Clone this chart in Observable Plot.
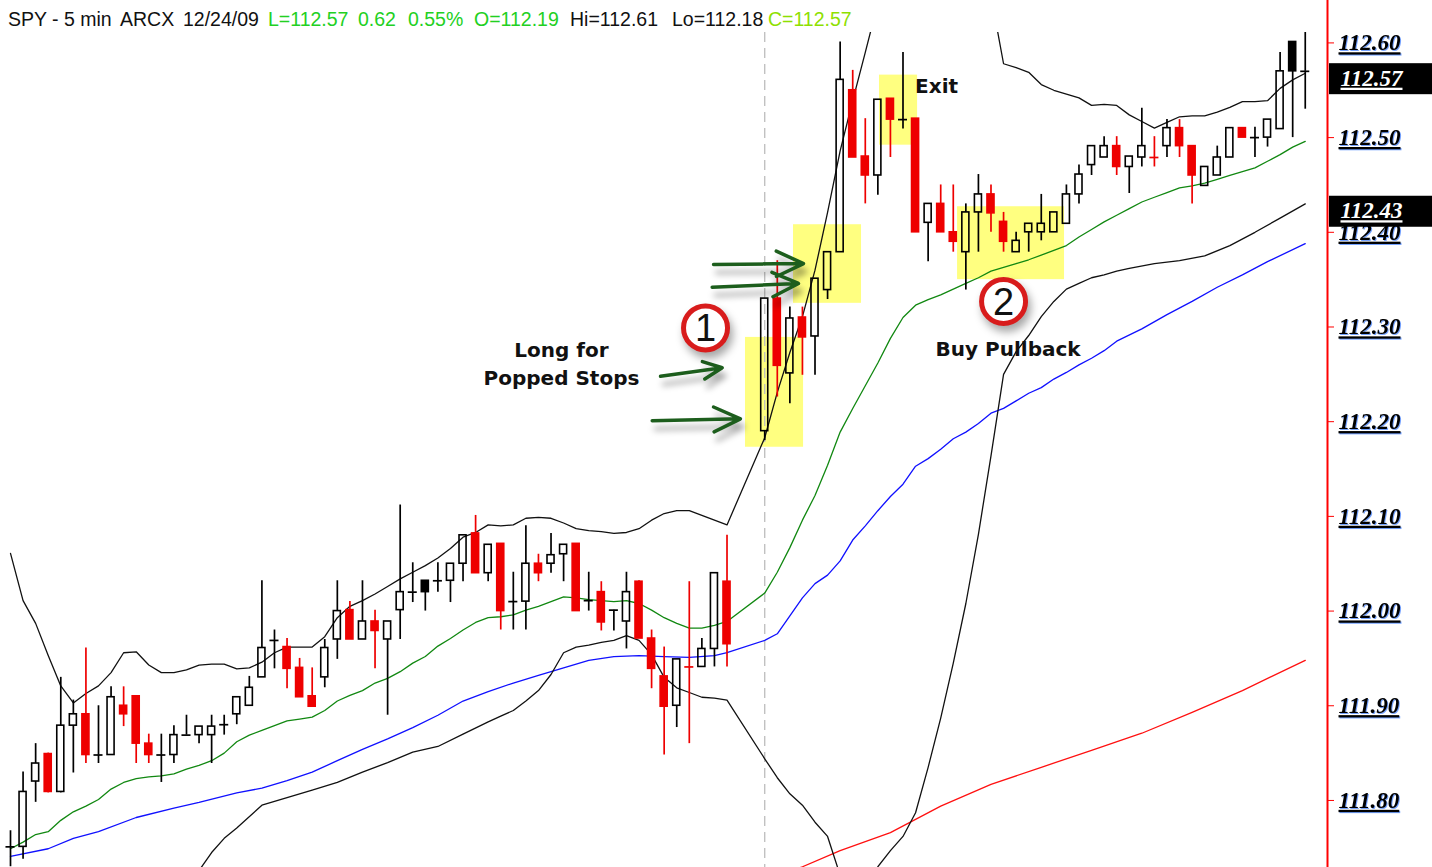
<!DOCTYPE html>
<html><head><meta charset="utf-8">
<script src="https://cdn.jsdelivr.net/npm/d3@7"></script>
<script src="https://cdn.jsdelivr.net/npm/@observablehq/plot@0.6"></script>
<style>
html,body{margin:0;padding:0;background:#fff;overflow:hidden;}
#wrap{position:relative;width:1432px;height:867px;}
#hdr span{position:absolute;top:8px;font:19.5px "Liberation Sans",Arial,sans-serif;white-space:pre;line-height:22px;}
#chart svg{display:block;background:#fff;}
g[aria-label="y-axis tick label"]{font:italic bold 23px "Liberation Serif",serif;text-decoration:underline;filter:drop-shadow(1px 1px 0 rgba(40,110,255,0.65));}
g[aria-label="y-axis tick"]{stroke:#ff0000;}
g[aria-label="arrow"]{filter:drop-shadow(3px 8px 3px rgba(0,0,0,0.35));}
g[aria-label="dot"]{filter:drop-shadow(3px 6px 4px rgba(0,0,0,0.35));}
.lastval{font:italic bold 23px "Liberation Serif",serif;text-decoration:underline;}
</style></head>
<body><div id="wrap"><div id="chart"></div><div id="hdr"></div></div>
<script>
// ---- scale extents ----
const X_DOMAIN = [-0.7955, 104.77];
const Y_DOMAIN = [111.7292, 112.611];
const yTicks = [111.8, 111.9, 112.0, 112.1, 112.2, 112.3, 112.4, 112.5, 112.6];
const lastValues = [112.57, 112.43];
const sessionBreak = [60];

// ---- header ----
const headerText = ["SPY - 5 min", "ARCX", "12/24/09", "L=112.57", "0.62", "0.55%", "O=112.19", "Hi=112.61", "Lo=112.18", "C=112.57"];
const headerKind = ["k", "k", "k", "g", "g", "g", "g", "k", "k", "c"];

// ---- candles (bar number, OHLC) ----
const barIndex = [0,1,2,3,4,5,6,7,8,9,10,11,12,13,14,15,16,17,18,19,20,21,22,23,24,25,26,27,28,29,30,31,32,33,34,35,36,37,38,39,40,41,42,43,44,45,46,47,48,49,50,51,52,53,54,55,56,57,
  60,61,62,63,64,65,66,67,68,69,70,71,72,73,74,75,76,77,78,79,80,81,82,83,84,85,86,87,88,89,90,91,92,93,94,95,96,97,98,99,100,101,102,103];
const opens = [111.751,111.751,111.820,111.849,111.809,111.879,111.891,111.848,111.848,111.900,111.910,111.860,111.848,111.848,111.869,111.869,111.869,111.880,111.891,111.900,111.930,111.969,111.962,111.940,111.910,111.930,111.970,112.001,111.970,111.989,111.970,112.001,112.020,112.032,112.032,112.032,112.050,112.082,112.040,112.071,112.010,112.010,112.050,112.050,112.060,112.071,112.011,112.020,112.001,111.989,112.031,111.971,111.931,111.900,111.941,111.941,111.960,112.031,
  112.190,112.330,112.251,112.310,112.290,112.339,112.379,112.550,112.480,112.460,112.541,112.519,112.520,112.410,112.430,112.400,112.379,112.421,112.440,112.411,112.379,112.400,112.400,112.400,112.409,112.440,112.471,112.479,112.491,112.469,112.479,112.479,112.491,112.510,112.491,112.449,112.460,112.479,112.510,112.500,112.500,112.509,112.601,112.570];
const highs = [111.768,111.830,111.860,111.850,111.930,111.906,111.961,111.900,111.920,111.920,111.910,111.870,111.870,111.879,111.890,111.878,111.890,111.890,111.909,111.931,112.032,111.980,111.971,111.950,111.940,111.970,112.032,112.010,112.032,112.001,111.989,112.112,112.051,112.032,112.051,112.050,112.080,112.101,112.070,112.071,112.041,112.090,112.060,112.082,112.070,112.071,112.041,112.031,112.001,112.041,112.032,111.980,111.962,111.949,112.031,111.971,112.040,112.080,
  112.330,112.370,112.321,112.321,112.351,112.379,112.601,112.571,112.520,112.540,112.541,112.590,112.520,112.430,112.450,112.450,112.430,112.461,112.450,112.421,112.400,112.409,112.440,112.421,112.450,112.471,112.491,112.501,112.501,112.480,112.531,112.501,112.519,112.519,112.491,112.469,112.491,112.510,112.510,112.511,112.519,112.590,112.601,112.611];
const lows = [111.730,111.738,111.798,111.808,111.808,111.829,111.839,111.839,111.848,111.878,111.839,111.839,111.819,111.839,111.869,111.860,111.839,111.869,111.880,111.900,111.930,111.939,111.918,111.909,111.899,111.919,111.949,111.970,111.970,111.939,111.890,111.970,112.009,112.000,112.020,112.009,112.031,112.040,112.031,111.980,111.980,111.980,112.031,112.040,112.031,112.000,112.000,111.979,111.979,111.960,111.971,111.918,111.848,111.877,111.860,111.941,111.941,111.941,
  112.180,112.226,112.219,112.249,112.249,112.329,112.379,112.479,112.430,112.439,112.479,112.509,112.400,112.369,112.400,112.379,112.339,112.379,112.400,112.379,112.379,112.379,112.391,112.400,112.409,112.430,112.460,112.479,112.460,112.441,112.469,112.469,112.479,112.479,112.430,112.449,112.460,112.479,112.500,112.479,112.490,112.509,112.500,112.530];
const closes = [111.751,111.809,111.839,111.809,111.879,111.891,111.848,111.848,111.909,111.891,111.860,111.848,111.848,111.869,111.869,111.878,111.878,111.880,111.909,111.919,111.961,111.969,111.939,111.909,111.899,111.961,112.000,111.970,111.989,111.979,111.989,112.020,112.020,112.020,112.032,112.050,112.080,112.040,112.070,112.000,112.010,112.050,112.040,112.059,112.070,112.000,112.011,111.988,112.001,112.020,111.971,111.939,111.899,111.949,111.941,111.960,112.040,111.965,
  112.330,112.259,112.309,112.289,112.351,112.379,112.561,112.479,112.460,112.540,112.519,112.519,112.400,112.430,112.400,112.390,112.421,112.440,112.420,112.390,112.391,112.409,112.409,112.421,112.440,112.461,112.491,112.491,112.469,112.480,112.491,112.479,112.510,112.491,112.460,112.469,112.479,112.510,112.500,112.500,112.519,112.570,112.570,112.570];

// ---- indicator lines: [bar number, price] ----
const upperBand = [[0,112.061],[1,112.011],[2,111.987],[3,111.953],[4,111.921],[5,111.903],[6,111.913],[7,111.921],[8,111.935],[9,111.956],[10,111.957],[11,111.943],[12,111.935],[13,111.935],[14,111.938],[15,111.943],[16,111.944],[17,111.944],[18,111.939],[19,111.940],[20,111.946],[21,111.956],[22,111.962],[23,111.962],[24,111.962],[25,111.973],[26,111.993],[27,112.005],[28,112.011],[29,112.018],[30,112.026],[31,112.034],[32,112.041],[33,112.048],[34,112.056],[35,112.066],[36,112.078],[37,112.083],[38,112.091],[39,112.090],[40,112.091],[41,112.098],[42,112.099],[43,112.098],[44,112.093],[45,112.087],[46,112.085],[47,112.084],[48,112.082],[49,112.083],[50,112.087],[51,112.096],[52,112.103],[53,112.106],[54,112.106],[55,112.101],[56,112.096],[57,112.091],
  [60,112.183],[61,112.231],[62,112.273],[63,112.311],[64,112.360],[65,112.421],[66,112.486],[67,112.539],[68,112.590],[69,112.642],[70,112.687],[73,112.729],[76,112.719],[77,112.698],[78,112.650],[79,112.578],[80,112.574],[81,112.569],[82,112.556],[83,112.550],[84,112.546],[85,112.542],[86,112.534],[87,112.535],[88,112.534],[89,112.524],[90,112.517],[91,112.510],[92,112.516],[93,112.522],[94,112.523],[95,112.523],[96,112.527],[97,112.532],[98,112.538],[99,112.538],[100,112.539],[101,112.552],[102,112.561],[103,112.568]];
const lowerBand = [[15,111.726],[16,111.745],[17,111.760],[18,111.771],[20,111.795],[22,111.803],[24,111.811],[26,111.819],[28,111.830],[30,111.840],[32,111.851],[34,111.857],[36,111.870],[38,111.883],[39,111.889],[40,111.895],[41,111.905],[42,111.916],[43,111.933],[44,111.956],[45,111.962],[46,111.964],[47,111.967],[48,111.969],[49,111.974],[50,111.969],[51,111.954],[52,111.930],[53,111.919],[54,111.914],[55,111.909],[56,111.908],[57,111.906],
  [60,111.844],[61,111.824],[62,111.807],[63,111.795],[64,111.777],[65,111.762],[66,111.721],[67,111.689],[68,111.700],[69,111.730],[70,111.747],[71,111.762],[72,111.787],[73,111.835],[74,111.887],[75,111.945],[76,112.008],[77,112.081],[78,112.164],[79,112.250],[80,112.274],[81,112.291],[82,112.311],[83,112.327],[84,112.340],[85,112.346],[86,112.352],[87,112.355],[88,112.359],[89,112.362],[91,112.367],[93,112.370],[95,112.375],[97,112.386],[99,112.400],[101,112.415],[103,112.430]];
const greenMA = [[0,111.749],[1,111.756],[2,111.764],[3,111.767],[4,111.779],[5,111.788],[6,111.794],[7,111.801],[8,111.812],[9,111.819],[10,111.823],[11,111.825],[12,111.826],[13,111.828],[14,111.833],[15,111.837],[16,111.842],[17,111.850],[18,111.862],[19,111.869],[20,111.874],[21,111.879],[22,111.884],[23,111.886],[24,111.888],[25,111.895],[26,111.905],[27,111.911],[28,111.916],[29,111.924],[30,111.929],[31,111.936],[32,111.945],[33,111.952],[34,111.963],[35,111.971],[36,111.980],[37,111.988],[38,111.993],[39,111.994],[40,111.996],[41,112.001],[42,112.005],[43,112.010],[44,112.015],[45,112.014],[46,112.012],[47,112.011],[48,112.010],[49,112.011],[50,112.008],[51,112.001],[52,111.993],[53,111.987],[54,111.982],[55,111.982],[56,111.985],[57,111.989],
  [60,112.019],[61,112.041],[62,112.067],[63,112.096],[64,112.122],[65,112.154],[66,112.189],[67,112.214],[68,112.238],[69,112.262],[70,112.288],[71,112.310],[72,112.323],[73,112.329],[74,112.334],[75,112.340],[76,112.346],[77,112.352],[78,112.359],[79,112.363],[80,112.367],[81,112.371],[82,112.376],[83,112.381],[84,112.386],[85,112.395],[86,112.403],[87,112.411],[88,112.418],[89,112.425],[90,112.432],[91,112.437],[92,112.442],[93,112.447],[94,112.449],[95,112.452],[96,112.456],[97,112.460],[98,112.464],[99,112.468],[100,112.475],[101,112.482],[102,112.490],[103,112.496]];
const blueMA = [[0,111.741],[3,111.749],[5,111.760],[7,111.767],[10,111.782],[13,111.792],[15,111.798],[18,111.808],[20,111.813],[22,111.821],[24,111.830],[26,111.842],[28,111.854],[30,111.865],[32,111.877],[34,111.890],[36,111.905],[38,111.915],[40,111.924],[42,111.932],[44,111.940],[46,111.948],[48,111.952],[50,111.953],[52,111.952],[54,111.951],[56,111.953],[57,111.956],
  [60,111.969],[61,111.976],[62,111.995],[63,112.014],[64,112.029],[65,112.038],[66,112.053],[67,112.075],[68,112.090],[69,112.106],[70,112.121],[71,112.134],[72,112.153],[73,112.161],[74,112.171],[75,112.182],[76,112.189],[77,112.198],[78,112.209],[79,112.214],[80,112.222],[81,112.230],[82,112.236],[83,112.245],[84,112.252],[85,112.260],[86,112.267],[87,112.275],[88,112.285],[90,112.298],[92,112.313],[94,112.327],[96,112.342],[98,112.355],[100,112.369],[103,112.388]];
const redMA = [[62,111.725],[63,111.730],[66,111.747],[70,111.766],[74,111.794],[78,111.817],[82,111.835],[86,111.853],[90,111.871],[94,111.893],[98,111.916],[103,111.948]];

// ---- annotations ----
const highlightBoxes = [
  {i1: 58.47, i2: 63.09, v1: 112.173, v2: 112.289},
  {i1: 62.29, i2: 67.70, v1: 112.325, v2: 112.408},
  {i1: 69.13, i2: 72.16, v1: 112.492, v2: 112.566},
  {i1: 75.34, i2: 83.85, v1: 112.350, v2: 112.427}
];
const arrowList = [
  {i1: 51.05, v1: 112.201, i2: 58.07, v2: 112.203},
  {i1: 51.71, v1: 112.248, i2: 56.62, v2: 112.257},
  {i1: 55.93, v1: 112.366, i2: 63.09, v2: 112.367},
  {i1: 55.82, v1: 112.342, i2: 62.69, v2: 112.346}
];
const markers = [{i: 55.29, v: 112.299, label: "1"}, {i: 79.0, v: 112.327, label: "2"}];
const notes = [
  {i: 43.83, v: 112.275, t: "Long for"},
  {i: 43.83, v: 112.245, t: "Popped Stops"},
  {i: 73.67, v: 112.554, t: "Exit"},
  {i: 79.36, v: 112.276, t: "Buy Pullback"}
];

// ---- build ----
const candles = barIndex.map((i, k) => ({i, o: opens[k], h: highs[k], l: lows[k], c: closes[k], p: k ? closes[k - 1] : closes[k]}));
const RED = "#ee0000", BLK = "#000000";
const col = d => (d.c < d.p - 0.0005 ? RED : BLK);
const pts = a => a.map(([i, v]) => ({i, v}));
const bodies = candles.filter(d => Math.abs(d.o - d.c) >= 0.002);
const dojis = candles.filter(d => Math.abs(d.o - d.c) < 0.002);

const chart = Plot.plot({
  width: 1432, height: 867,
  marginLeft: 0, marginRight: 105, marginTop: 32, marginBottom: 0,
  x: {domain: X_DOMAIN, axis: null},
  y: {domain: Y_DOMAIN},
  marks: [
    Plot.rect(highlightBoxes, {x1: "i1", x2: "i2", y1: "v1", y2: "v2", fill: "#ffff80"}),
    Plot.ruleX(sessionBreak, {stroke: "#bdbdbd", strokeWidth: 1.3, strokeDasharray: "10,6"}),
    Plot.line(pts(redMA), {x: "i", y: "v", stroke: "#ff1010", strokeWidth: 1.3, clip: true}),
    Plot.line(pts(blueMA), {x: "i", y: "v", stroke: "#1010ff", strokeWidth: 1.3, clip: true}),
    Plot.line(pts(greenMA), {x: "i", y: "v", stroke: "#118811", strokeWidth: 1.3, clip: true}),
    Plot.line(pts(upperBand), {x: "i", y: "v", stroke: "#111", strokeWidth: 1.3, clip: true}),
    Plot.line(pts(lowerBand), {x: "i", y: "v", stroke: "#111", strokeWidth: 1.3, clip: true}),
    Plot.ruleX(candles, {x: "i", y1: d => Math.max(d.o, d.c), y2: "h", stroke: col, strokeWidth: 1.7}),
    Plot.ruleX(candles, {x: "i", y1: d => Math.min(d.o, d.c), y2: "l", stroke: col, strokeWidth: 1.7}),
    Plot.rect(bodies, {x1: d => d.i - 0.28, x2: d => d.i + 0.28, y1: "o", y2: "c",
      fill: d => (d.c < d.o ? col(d) : "none"), stroke: col, strokeWidth: 1.6}),
    Plot.ruleY(dojis, {y: "o", x1: d => d.i - 0.36, x2: d => d.i + 0.36, stroke: col, strokeWidth: 1.7}),
    Plot.arrow(arrowList, {x1: "i1", y1: "v1", x2: "i2", y2: "v2", stroke: "#1d5e1d", strokeWidth: 3.5,
      headLength: 14, headAngle: 50}),
    Plot.dot(markers, {x: "i", y: "v", r: 22, fill: "white", stroke: "#d81c1c", strokeWidth: 5}),
    Plot.text(markers, {x: "i", y: "v", text: "label", fontSize: 38, fontFamily: "Liberation Sans", fill: "#111", dy: 1}),
    Plot.text(notes, {x: "i", y: "v", text: "t", fontSize: 20, fontWeight: "bold", fontFamily: "DejaVu Sans", fill: "#111"}),
    Plot.axisY(yTicks, {anchor: "right", tickSize: 6, tickPadding: 5, tickFormat: d3.format(".2f")}),
    Plot.ruleX([X_DOMAIN[1]], {stroke: "#ff0000", strokeWidth: 2, insetTop: -32}),
    Plot.text(lastValues, {y: d => d, text: d => d3.format(".2f")(d), frameAnchor: "right", textAnchor: "start",
      dx: 13, dy: 7, fill: "white"})
  ]
});
document.getElementById("chart").appendChild(chart);

// header
const hdrX = [8, 120, 183, 268, 358, 408, 474, 570, 672, 768];
const kindColor = {k: "#111", g: "#22d022", c: "#8ee000"};
const hdr = d3.select("#hdr");
headerText.forEach((t, k) => {
  hdr.append("span").style("left", hdrX[k] + "px").style("color", kindColor[headerKind[k]]).text(t);
});

// black boxes behind the last-value labels (last text mark)
try {
  const svg = document.querySelector("#chart svg");
  const sb = svg.getBoundingClientRect();
  const groups = svg.querySelectorAll('g[aria-label="text"]');
  const lg = groups[groups.length - 1];
  lg.classList.add("lastval");
  lg.querySelectorAll("text").forEach(t => {
    const r = t.getBoundingClientRect();
    const rect = document.createElementNS("http://www.w3.org/2000/svg", "rect");
    const cy = r.top - sb.top + r.height / 2;
    rect.setAttribute("x", 1329); rect.setAttribute("width", 103);
    rect.setAttribute("y", cy - 15); rect.setAttribute("height", 31);
    rect.setAttribute("fill", "#000");
    lg.parentNode.insertBefore(rect, lg);
  });
} catch (e) { console.log(e); }
</script>
</body></html>
